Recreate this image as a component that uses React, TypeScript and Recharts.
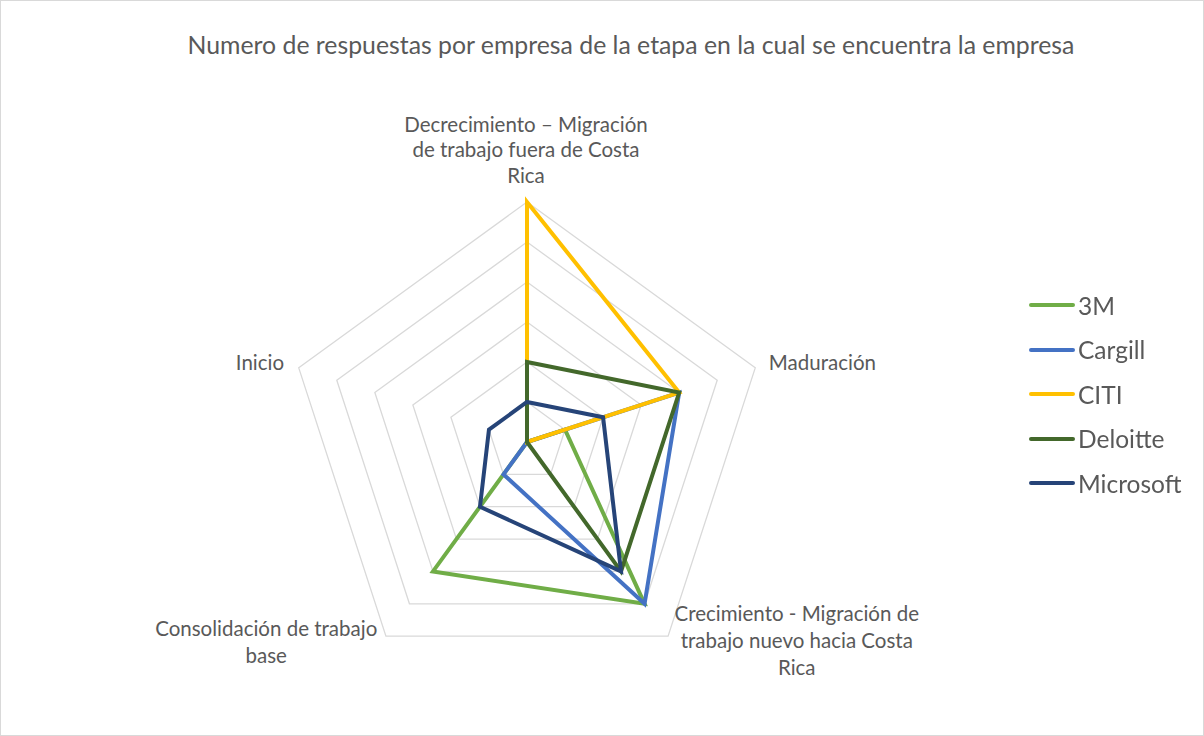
import React from 'react';
import { RadarChart, Radar, PolarGrid, PolarAngleAxis, PolarRadiusAxis, Legend } from 'recharts';

const categories = [
  'Decrecimiento – Migración de trabajo fuera de Costa Rica',
  'Maduración',
  'Crecimiento - Migración de trabajo nuevo hacia Costa Rica',
  'Consolidación de trabajo base',
  'Inicio',
];
const categoryLines = [
  ['Decrecimiento – Migración', 'de trabajo fuera de Costa', 'Rica'],
  ['Maduración'],
  ['Crecimiento - Migración de', 'trabajo nuevo hacia Costa', 'Rica'],
  ['Consolidación de trabajo', 'base'],
  ['Inicio'],
];
const series3M = [0, 1, 5, 4, 0];
const seriesCargill = [0, 4, 5, 1, 0];
const seriesCiti = [6, 4, 0, 0, 0];
const seriesDeloitte = [2, 4, 4, 0, 0];
const seriesMicrosoft = [1, 2, 4, 2, 1];

const seriesNames = ['3M', 'Cargill', 'CITI', 'Deloitte', 'Microsoft'];
const seriesColors = ['#70ad47', '#4472c4', '#ffc000', '#43682b', '#264478'];

const data = categories.map((c, i) => ({
  category: c,
  '3M': series3M[i],
  Cargill: seriesCargill[i],
  CITI: seriesCiti[i],
  Deloitte: seriesDeloitte[i],
  Microsoft: seriesMicrosoft[i],
}));

const FONT = 'Lato, "Liberation Sans", sans-serif';
const TEXT = '#595959';

// placement of each axis label relative to its tick point
const labelPlacement = [
  { dx: -1, dys: [-62, -37, -11], anchor: 'middle' },
  { dx: 6, dys: [5], anchor: 'start' },
  { dx: 124, dys: [-22, 5, 32], anchor: 'middle' },
  { dx: -115, dys: [-7, 20], anchor: 'middle' },
  { dx: -7, dys: [5], anchor: 'end' },
];

const AngleTick = (props: any) => {
  const { x, y, payload } = props;
  const idx = categories.indexOf(payload.value);
  const lines = categoryLines[idx] || [payload.value];
  const p = labelPlacement[idx] || { dx: 0, dys: [0], anchor: 'middle' };
  return (
    <g>
      {lines.map((l, i) => (
        <text
          key={i}
          x={x + p.dx}
          y={y + p.dys[i]}
          textAnchor={p.anchor}
          fill={TEXT}
          fontSize={20.5}
          fontFamily={FONT}
        >
          {l}
        </text>
      ))}
    </g>
  );
};

const LegendContent = () => (
  <div>
    {seriesNames.map((n, i) => (
      <div key={n} style={{ display: 'flex', alignItems: 'center', height: 44.5 }}>
        <div style={{ width: 46, height: 4, borderRadius: 2, background: seriesColors[i], marginRight: 3 }} />
        <span style={{ fontFamily: FONT, fontSize: 24.5, color: TEXT }}>{n}</span>
      </div>
    ))}
  </div>
);

export default function App() {
  return (
    <div
      style={{
        position: 'fixed',
        left: 0,
        top: 0,
        width: 1204,
        height: 736,
        background: '#fff',
        border: '1px solid #d9d9d9',
        boxSizing: 'border-box',
      }}
    >
      <div
        style={{
          position: 'absolute',
          top: 29,
          left: 0,
          width: 1260,
          textAlign: 'center',
          fontFamily: FONT,
          fontSize: 24.8,
          color: TEXT,
        }}
      >
        Numero de respuestas por empresa de la etapa en la cual se encuentra la empresa
      </div>
      <RadarChart
        width={1202}
        height={734}
        data={data}
        cx={526}
        cy={441}
        outerRadius={240}
        margin={{ top: 0, right: 0, bottom: 0, left: 0 }}
      >
        <PolarGrid gridType="polygon" radialLines={false} stroke="#d9d9d9" strokeWidth={1.3} />
        <PolarAngleAxis dataKey="category" tick={<AngleTick />} tickLine={false} axisLine={false} />
        <PolarRadiusAxis domain={[0, 6]} tickCount={7} tick={false} axisLine={false} />
        {seriesNames.map((n, i) => (
          <Radar
            key={n}
            name={n}
            dataKey={n}
            stroke={seriesColors[i]}
            strokeWidth={4}
            fill="none"
            fillOpacity={0}
            dot={false}
            isAnimationActive={false}
          />
        ))}
        <Legend
          content={<LegendContent />}
          wrapperStyle={{ position: 'absolute', left: 1028, top: 282, width: 176 }}
        />
      </RadarChart>
    </div>
  );
}
